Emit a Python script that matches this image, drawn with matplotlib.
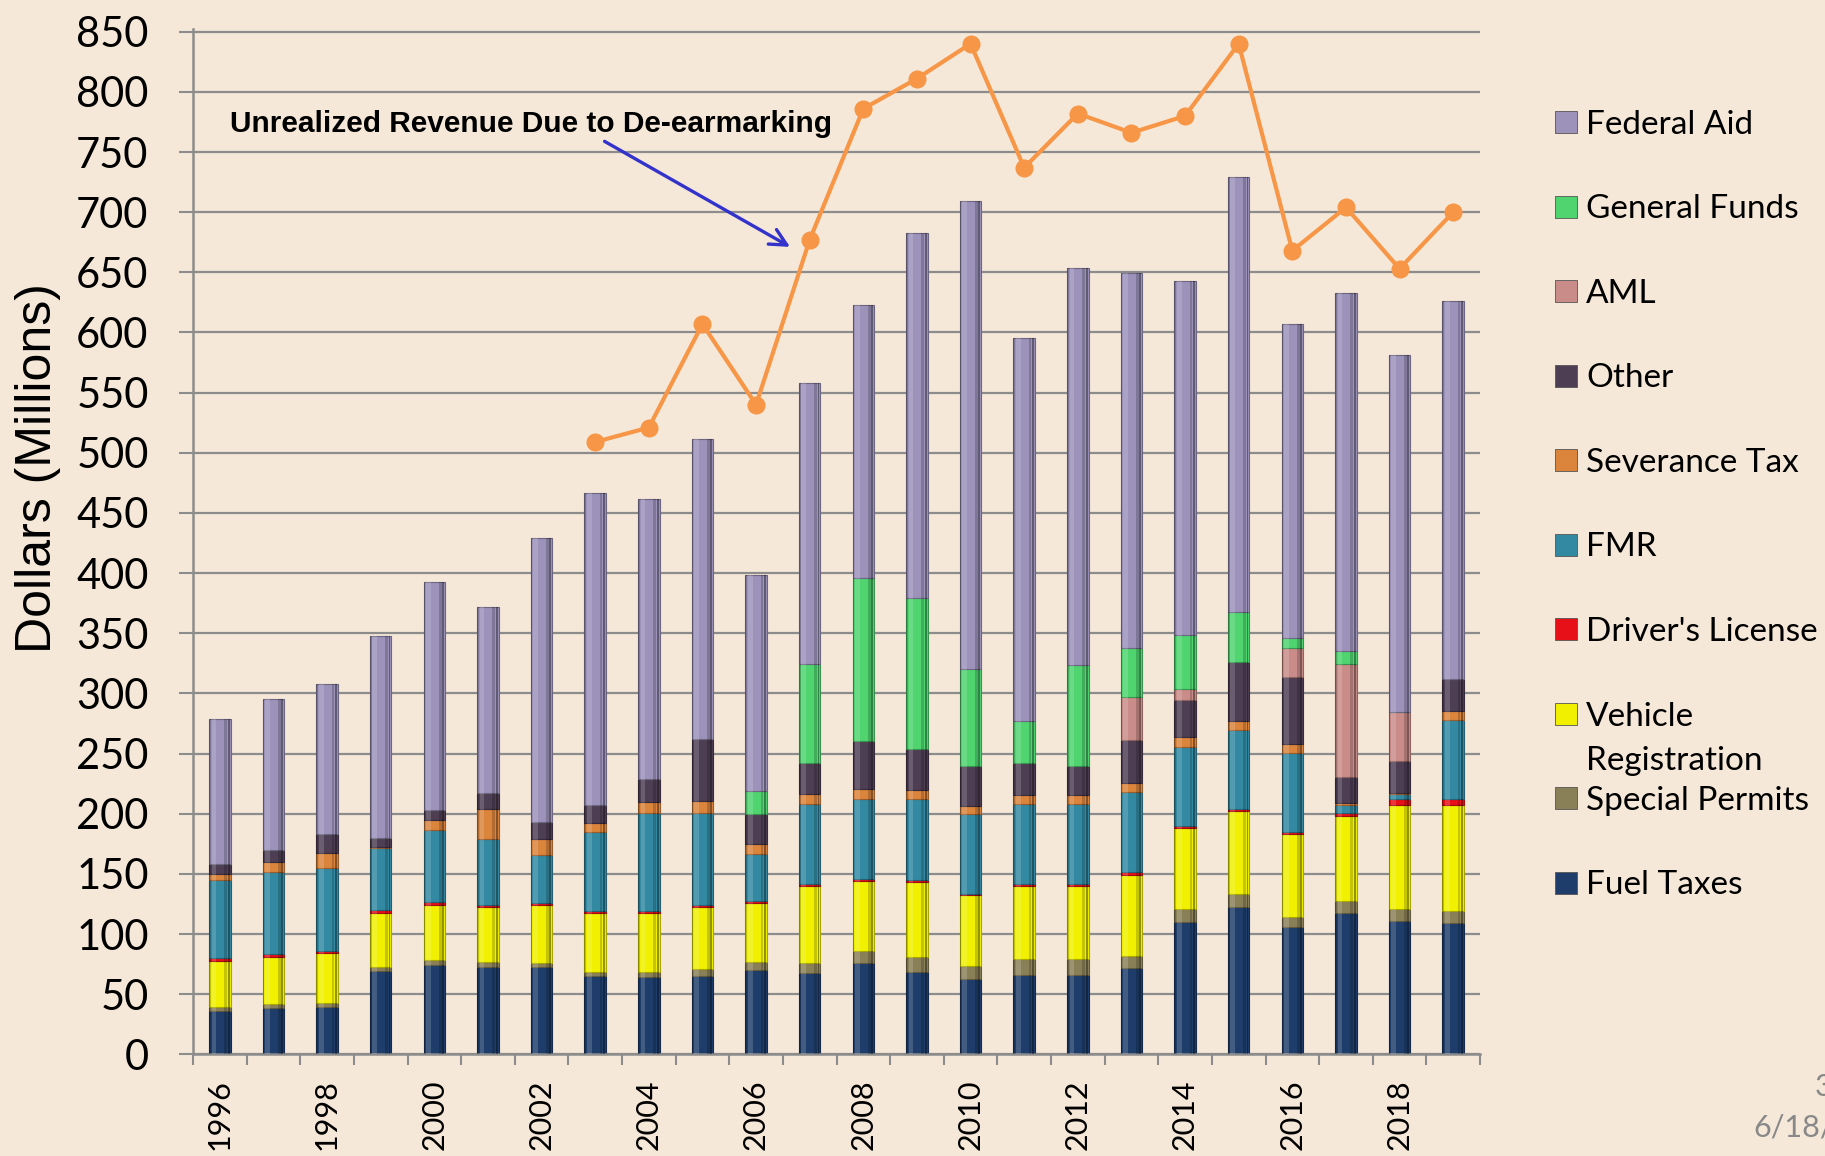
"""
Stacked revenue sources by year with the unrealized revenue line on top.
"""

import numpy as np
import matplotlib.pyplot as plt
from matplotlib.patches import Rectangle

years = list(range(1996, 2020))

fuel_taxes = [35.8, 38.4, 39.4, 69.6, 74.6, 72.9, 72.9, 65.4, 64.7, 65.4, 70.3, 68.0,
              75.9, 68.7, 62.4, 66.4, 66.4, 71.9, 109.7, 122.9, 105.7, 117.7, 110.8, 109.4]
special_permits = [3.6, 3.3, 3.0, 3.3, 3.9, 4.3, 3.3, 3.3, 4.0, 5.9, 6.9, 8.2,
                   10.2, 12.4, 11.2, 13.1, 13.1, 9.9, 10.9, 10.8, 8.3, 10.2, 10.2, 10.2]
vehicle_registration = [38.5, 39.4, 42.0, 45.0, 45.4, 45.0, 47.7, 48.6, 48.6, 50.9, 48.3, 64.1,
                        58.1, 62.5, 58.5, 60.8, 60.8, 67.7, 67.3, 68.3, 69.3, 70.2, 86.3, 87.7]
drivers_license = [2.3, 2.3, 1.7, 2.0, 2.6, 1.7, 2.3, 1.6, 2.3, 2.3, 1.6, 1.6,
                   1.7, 1.6, 1.6, 1.6, 1.6, 1.9, 2.3, 2.3, 1.4, 2.3, 4.6, 4.6]
fmr = [65.0, 68.4, 69.0, 51.6, 60.4, 54.8, 39.7, 65.7, 81.4, 76.5, 39.5, 66.4,
       66.6, 66.7, 66.4, 66.4, 66.4, 67.1, 65.7, 65.7, 65.5, 6.9, 4.6, 66.0]
severance_tax = [5.0, 8.2, 12.1, 1.0, 7.6, 25.6, 12.8, 7.6, 8.9, 9.9, 8.2, 8.2,
                 8.3, 7.9, 6.5, 7.5, 7.5, 7.2, 7.6, 7.3, 7.9, 1.4, 1.0, 7.9]
other = [8.0, 9.8, 15.8, 7.2, 8.9, 13.2, 14.1, 15.4, 19.1, 50.9, 24.6, 25.6,
         39.4, 33.8, 33.2, 26.3, 24.0, 35.5, 31.2, 48.6, 55.4, 22.1, 26.7, 25.8]
aml = [0, 0, 0, 0, 0, 0, 0, 0, 0, 0, 0, 0,
       0, 0, 0, 0, 0, 36.1, 8.8, 0, 24.4, 93.3, 40.7, 0]
general_funds = [0, 0, 0, 0, 0, 0, 0, 0, 0, 0, 19.7, 82.1,
                 135.7, 125.5, 80.5, 35.2, 83.5, 40.1, 45.1, 42.0, 7.9, 11.5, 0, 0]
federal_aid = [120.9, 125.9, 124.8, 168.2, 189.2, 154.4, 236.5, 258.6, 232.6, 250.0, 179.7, 234.2,
               227.0, 304.0, 389.0, 318.0, 330.1, 312.2, 294.4, 361.3, 261.0, 297.1, 296.1, 314.5]

unrealized_years = list(range(2003, 2020))
unrealized = [509, 521, 607, 540, 677, 786, 811, 840, 737, 782, 766, 780, 840, 668, 704, 653, 700]

# bottom to top stacking order
series = [
    ('Fuel Taxes', fuel_taxes, '#1E3D6B'),
    ('Special Permits', special_permits, '#8A8058'),
    ('Vehicle Registration', vehicle_registration, '#F0F000'),
    ("Driver's License", drivers_license, '#E81018'),
    ('FMR', fmr, '#3389A2'),
    ('Severance Tax', severance_tax, '#DA843C'),
    ('Other', other, '#4E3E54'),
    ('AML', aml, '#C98C88'),
    ('General Funds', general_funds, '#4FD470'),
    ('Federal Aid', federal_aid, '#9C92BA'),
]

BG = '#F5E8D8'
GRID = '#8C8C8C'
W, H = 1825, 1156

plt.rcParams['font.family'] = ['Lato', 'DejaVu Sans']

fig = plt.figure(figsize=(W / 100, H / 100), dpi=100, facecolor=BG)
ax = fig.add_axes([193 / W, 101.6 / H, 1287 / W, 1025.1 / H])
ax.set_facecolor(BG)

x = np.arange(len(years))
bw = 0.4
bottom = np.zeros(len(years))
for name, vals, col in series:
    vals = np.array(vals)
    edge = np.array(plt.matplotlib.colors.to_rgb(col)) * 0.7
    ax.bar(x, vals, bw, bottom=bottom, color=col, edgecolor=edge, linewidth=0.8, zorder=2)
    bottom = bottom + vals

# rough cylinder shading over the full bar
totals = bottom
for off, wd, c, a in [(-0.185, 0.03, 'black', 0.18), (-0.11, 0.09, 'white', 0.16),
                      (0.11, 0.05, 'black', 0.18), (0.165, 0.035, 'black', 0.38)]:
    ax.bar(x + off, totals, wd, color=c, alpha=a, linewidth=0, zorder=3)

# unrealized revenue line
ux = [years.index(y) for y in unrealized_years]
ax.plot(ux, unrealized, color='#F79646', lw=3, marker='o', ms=12, zorder=5)

ax.annotate('', xy=(10.68, 670), xytext=(7.13, 760),
            arrowprops=dict(arrowstyle='->', color='#3333CC', lw=2.4, mutation_scale=30), zorder=6)
ax.text(0.185, 773, 'Unrealized Revenue Due to De-earmarking', fontsize=21.5, fontweight='bold',
        family=['Liberation Sans', 'DejaVu Sans'], ha='left', va='center', zorder=6)

ax.set_xlim(-0.5, len(years) - 0.5)
ax.set_ylim(0, 852)
ax.set_yticks(range(0, 851, 50))
ax.tick_params(axis='y', length=10, width=1.5, color=GRID, pad=22, labelsize=30)
ax.yaxis.grid(True, color=GRID, lw=1.6, zorder=0)
ax.set_axisbelow(True)

ax.set_xticks(np.arange(-0.5, len(years), 1))
ax.set_xticklabels([])
ax.tick_params(axis='x', which='major', length=8, width=1.5, color=GRID)
ax.set_xticks(x[::2], minor=True)
ax.set_xticklabels([str(y) for y in years[::2]], minor=True, rotation=90, fontsize=22)
ax.tick_params(axis='x', which='minor', length=0, pad=18)

for side in ['top', 'right']:
    ax.spines[side].set_visible(False)
for side in ['left', 'bottom']:
    ax.spines[side].set_color(GRID)
    ax.spines[side].set_linewidth(1.8)

ax.set_ylabel('Dollars (Millions)', fontsize=36, family=['Liberation Sans', 'DejaVu Sans'])
ax.yaxis.set_label_coords(-0.1026, 0.572)

# legend drawn by hand, top entry first
legend_order = list(reversed(series))
for k, (name, vals, col) in enumerate(legend_order):
    yc = 122 + 84.5 * k
    fig.add_artist(Rectangle((1555 / W, 1 - (yc + 11) / H), 22 / W, 22 / H,
                             transform=fig.transFigure, facecolor=col,
                             edgecolor='#555555', lw=0.6))
    if name == 'Vehicle Registration':
        fig.text(1586 / W, 1 - (yc + 12) / H, 'Vehicle', fontsize=24, va='baseline')
        fig.text(1586 / W, 1 - (yc + 57) / H, 'Registration', fontsize=24, va='baseline')
    else:
        fig.text(1586 / W, 1 - (yc + 12) / H, name, fontsize=24, va='baseline')

# slide number and date, cut by the right edge as in the slide
fig.text(1815 / W, 1 - 1087 / H, '3', fontsize=22, color='#888888', va='center')
fig.text(1753 / W, 1 - 1127 / H, '6/18/2019', fontsize=22, color='#888888', va='center')

fig.savefig('out.png', dpi=100, facecolor=BG)
